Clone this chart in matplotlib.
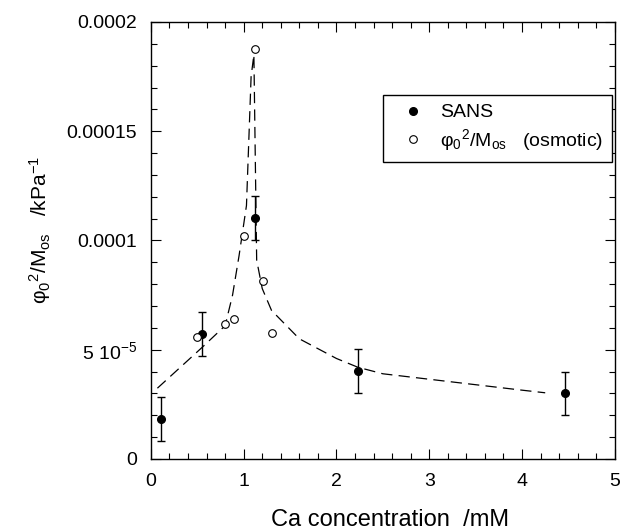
import numpy as np
import matplotlib
matplotlib.use('Agg')
import matplotlib.pyplot as plt
from matplotlib.ticker import MultipleLocator, FixedLocator, FixedFormatter

plt.rcParams['font.family'] = ['Liberation Sans', 'DejaVu Sans']
plt.rcParams['mathtext.fontset'] = 'custom'
plt.rcParams['mathtext.rm'] = 'Liberation Sans'
plt.rcParams['mathtext.it'] = 'Liberation Sans'

# SANS points with error bars
sans_x = [0.105, 0.555, 1.118, 2.23, 4.46]
sans_y = [1.82e-5, 5.71e-5, 11.02e-5, 4.04e-5, 3.0e-5]
sans_err = [1.0e-5, 1.0e-5, 1.0e-5, 1.0e-5, 1.0e-5]

# osmotic points
osm_x = [0.50, 0.80, 0.90, 1.006, 1.118, 1.205, 1.306]
osm_y = [5.57e-5, 6.16e-5, 6.39e-5, 10.2e-5, 18.75e-5, 8.15e-5, 5.75e-5]

# hand-drawn guide curve
guide_x = [0.07, 0.55, 0.80, 0.88, 0.95, 1.03, 1.08, 1.11, 1.14, 1.20, 1.30,
           1.60, 2.00, 2.23, 2.50, 3.00, 3.50, 4.00, 4.25]
guide_y = [3.24e-5, 5.1e-5, 6.1e-5, 7.5e-5, 9.3e-5, 11.6e-5, 17.5e-5, 18.5e-5,
           9.1e-5, 7.8e-5, 6.8e-5, 5.5e-5, 4.6e-5, 4.2e-5, 3.9e-5, 3.65e-5,
           3.4e-5, 3.15e-5, 3.03e-5]

ytick_vals = [0, 5e-5, 1e-4, 1.5e-4, 2e-4]
ytick_labels = ['0', '5 10$^{-5}$', '0.0001', '0.00015', '0.0002']
xtick_vals = [0, 1, 2, 3, 4, 5]

fig = plt.figure(figsize=(6.21, 5.31), dpi=100)
ax = fig.add_axes([0.243, 0.1356, 0.747, 0.823])

ax.plot(guide_x, guide_y, color='black', lw=0.9, dashes=(9, 5))
ax.errorbar(sans_x, sans_y, yerr=sans_err, fmt='none', ecolor='black',
            elinewidth=1, capsize=3, capthick=1)
ax.plot(sans_x, sans_y, 'o', color='black', ms=5.5, label='SANS')
ax.plot(osm_x, osm_y, 'o', mfc='white', mec='black', ms=5.5, mew=0.8,
        label='\u03c6$_0$$^2$/M$_{os}$   (osmotic)')

ax.set_xlim(0, 5)
ax.set_ylim(0, 2e-4)
ax.xaxis.set_major_locator(FixedLocator(xtick_vals))
ax.xaxis.set_minor_locator(MultipleLocator(0.2))
ax.yaxis.set_major_locator(FixedLocator(ytick_vals))
ax.yaxis.set_major_formatter(FixedFormatter(ytick_labels))
ax.yaxis.set_minor_locator(MultipleLocator(1e-5))
ax.tick_params(which='both', direction='in', top=True, right=True,
               labelsize=14, width=0.8)
ax.tick_params(which='major', length=7, pad=10)
ax.tick_params(which='minor', length=4)
for s in ax.spines.values():
    s.set_linewidth(1)

fig.text(0.628, 5.0 / 531, 'Ca concentration  /mM', fontsize=17,
         ha='center', va='baseline')
fig.text(0.064, 0.567, '\u03c6$_0$$^2$/M$_{os}$   /kPa$^{-1}$', fontsize=15,
         rotation=90, ha='center', va='center')

leg = ax.legend(loc='upper right', bbox_to_anchor=(0.9935, 0.833),
                borderaxespad=0, fontsize=14, frameon=True, fancybox=False,
                edgecolor='black', handlelength=2.2, handletextpad=0.3,
                borderpad=0.45, labelspacing=0.3, numpoints=1, framealpha=1)
leg.get_frame().set_linewidth(1)

fig.savefig('out.png', dpi=100)
